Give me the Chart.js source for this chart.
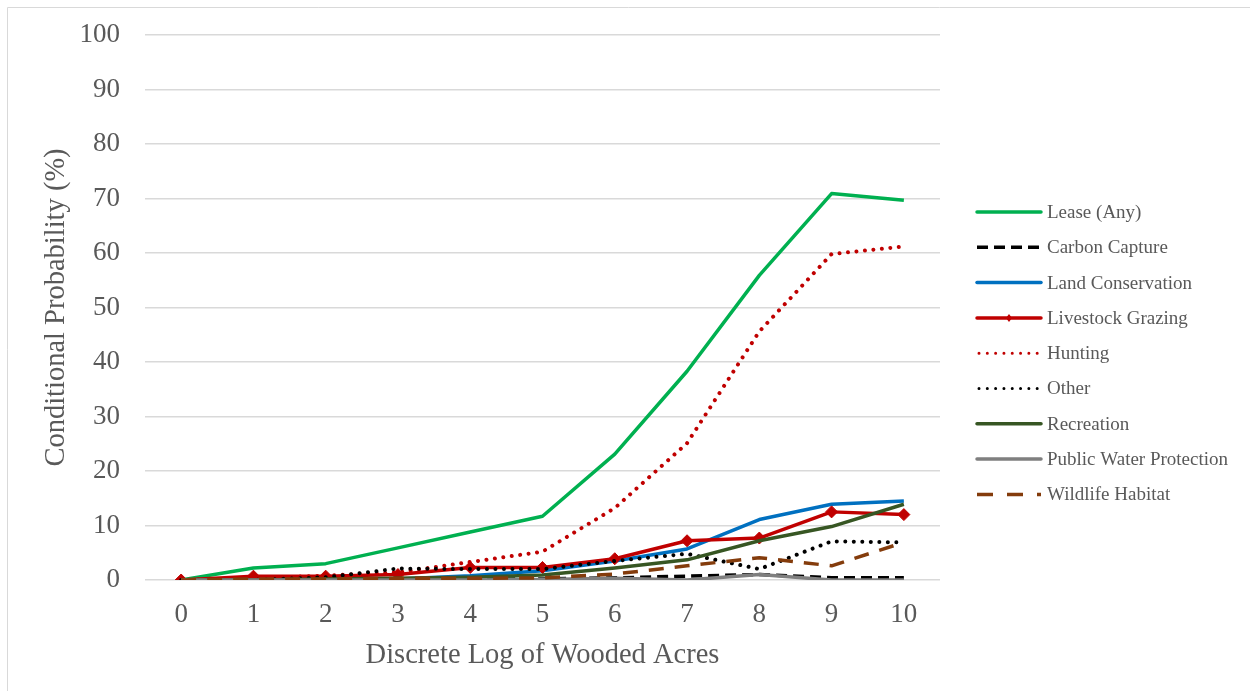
<!DOCTYPE html>
<html>
<head>
<meta charset="utf-8">
<script src="https://cdn.jsdelivr.net/npm/chart.js@4"></script>
<style>
  html, body { margin: 0; padding: 0; background: #fff; }
  #wrap { width: 1250px; height: 691px; }
</style>
</head>
<body>
<div id="wrap"><canvas id="probChart" width="1250" height="691"></canvas></div>
<script>
// Data
const logAcres = ['0', '1', '2', '3', '4', '5', '6', '7', '8', '9', '10'];
const leaseAny = [0, 2.2, 3.0, 5.9, 8.8, 11.7, 23.1, 38.3, 55.9, 70.9, 69.7];
const carbonCapture = [0, 0, 0, 0.1, 0.1, 0.2, 0.4, 0.7, 1.0, 0.4, 0.4];
const landConservation = [0, 0, 0, 0.2, 0.8, 1.7, 3.5, 5.7, 11.1, 13.9, 14.5];
const livestockGrazing = [0, 0.7, 0.7, 1.0, 2.3, 2.3, 3.9, 7.2, 7.7, 12.5, 12.0];
const hunting = [0, 0.3, 0.8, 1.4, 3.3, 5.2, 13.2, 25.1, 45.6, 59.8, 61.2];
const other = [0, 0, 0.5, 2.1, 2.0, 2.0, 3.5, 4.8, 2.0, 7.1, 6.9];
const recreation = [0, 0, 0.2, 0.3, 0.5, 0.9, 2.2, 3.7, 7.2, 9.8, 13.9];
const publicWater = [0, 0, 0, 0, 0, 0.1, 0.3, 0, 1.0, 0, 0];
const wildlifeHabitat = [0, 0.2, 0.2, 0.3, 0.3, 0.4, 1.1, 2.6, 4.1, 2.6, 6.9];

const fontFamily = '"Liberation Serif", "Times New Roman", serif';
const textGrey = '#595959';

const dotted = [0.01, 8.5];

const seriesDefs = [
    { label: 'Lease (Any)', data: leaseAny, color: '#00B050', dash: [] },
    { label: 'Carbon Capture', data: carbonCapture, color: '#000000', dash: [11, 6] },
    { label: 'Land Conservation', data: landConservation, color: '#0070C0', dash: [] },
    { label: 'Livestock Grazing', data: livestockGrazing, color: '#C00000', dash: [], marker: true },
    { label: 'Hunting', data: hunting, color: '#C00000', dash: dotted, round: true },
    { label: 'Other', data: other, color: '#000000', dash: dotted, round: true },
    { label: 'Recreation', data: recreation, color: '#375623', dash: [] },
    { label: 'Public Water Protection', data: publicWater, color: '#7F7F7F', dash: [] },
    { label: 'Wildlife Habitat', data: wildlifeHabitat, color: '#843C0C', dash: [15, 11], legendDash: [16, 14] }
];

const datasets = seriesDefs.map((s, i) => ({
    label: s.label,
    data: s.data,
    borderColor: s.color,
    backgroundColor: s.color,
    borderWidth: s.round ? 4 : 3.5,
    borderDash: s.dash,
    borderCapStyle: s.round ? 'round' : 'butt',
    borderJoinStyle: 'round',
    pointStyle: 'rectRot',
    pointRadius: s.marker ? 6 : 0,
    pointHoverRadius: s.marker ? 6 : 0,
    pointBorderWidth: 1,
    tension: 0,
    fill: false,
    order: seriesDefs.length - 1 - i   // later series drawn on top, like Excel
}));

// Legend drawn on the canvas so the dash styles show properly
const sideLegend = {
    id: 'sideLegend',
    afterDraw(chart) {
        const c = chart.ctx;
        const x0 = 977, x1 = 1041, textX = 1047;
        const top = 212, step = 35.3;
        c.save();
        c.font = '19px ' + fontFamily;
        c.textBaseline = 'middle';
        seriesDefs.forEach((s, i) => {
            const y = top + i * step;
            c.beginPath();
            c.strokeStyle = s.color;
            c.lineWidth = s.round ? 3 : 3.5;
            c.lineCap = s.round ? 'round' : (s.dash.length ? 'butt' : 'round');
            c.setLineDash(s.round ? [0.01, 8.3] : (s.legendDash || s.dash));
            c.moveTo(x0 + (s.round ? 2 : 0), y);
            c.lineTo(x1, y);
            c.stroke();
            c.setLineDash([]);
            if (s.marker) {
                c.fillStyle = s.color;
                c.beginPath();
                const mx = (x0 + x1) / 2;
                c.moveTo(mx, y - 4);
                c.lineTo(mx + 3, y);
                c.lineTo(mx, y + 4);
                c.lineTo(mx - 3, y);
                c.closePath();
                c.fill();
            }
            c.fillStyle = textGrey;
            c.fillText(s.label, textX, y + 1);
        });
        // faint frame of the chart area, top and left edges
        c.strokeStyle = '#D9D9D9';
        c.lineWidth = 1;
        c.beginPath();
        c.moveTo(7.5, 691);
        c.lineTo(7.5, 7.5);
        c.lineTo(1250, 7.5);
        c.stroke();
        c.restore();
    }
};

const ctx = document.getElementById('probChart').getContext('2d');
const probChart = new Chart(ctx, {
    type: 'line',
    data: {
        labels: logAcres,
        datasets: datasets
    },
    options: {
        responsive: false,
        animation: false,
        layout: {
            padding: { top: 35, right: 310, left: 0, bottom: 0 }
        },
        scales: {
            x: {
                offset: true,
                grid: { display: false, drawTicks: false },
                border: { display: false },
                ticks: {
                    color: textGrey,
                    font: { family: fontFamily, size: 27 },
                    padding: 19,
                    maxRotation: 0
                },
                title: {
                    display: true,
                    text: 'Discrete Log of Wooded Acres',
                    color: textGrey,
                    font: { family: fontFamily, size: 28.5 },
                    padding: { top: 4, bottom: 18 }
                },
                afterFit: scale => { scale.height = 111; }
            },
            y: {
                min: 0,
                max: 100,
                grid: { color: '#D9D9D9', lineWidth: 1.5, drawTicks: false },
                border: { display: false },
                ticks: {
                    stepSize: 10,
                    color: textGrey,
                    font: { family: fontFamily, size: 27 },
                    padding: 25
                },
                title: {
                    display: true,
                    text: 'Conditional Probability (%)',
                    color: textGrey,
                    font: { family: fontFamily, size: 28.5 },
                    padding: { top: 39, bottom: 0 }
                },
                afterFit: scale => {
                    scale.width = 145;
                    scale.paddingTop = 0;   // keep the plot top at the layout padding
                }
            }
        },
        plugins: {
            legend: { display: false },
            tooltip: { enabled: false }
        }
    },
    plugins: [sideLegend]
});
</script>
</body>
</html>
